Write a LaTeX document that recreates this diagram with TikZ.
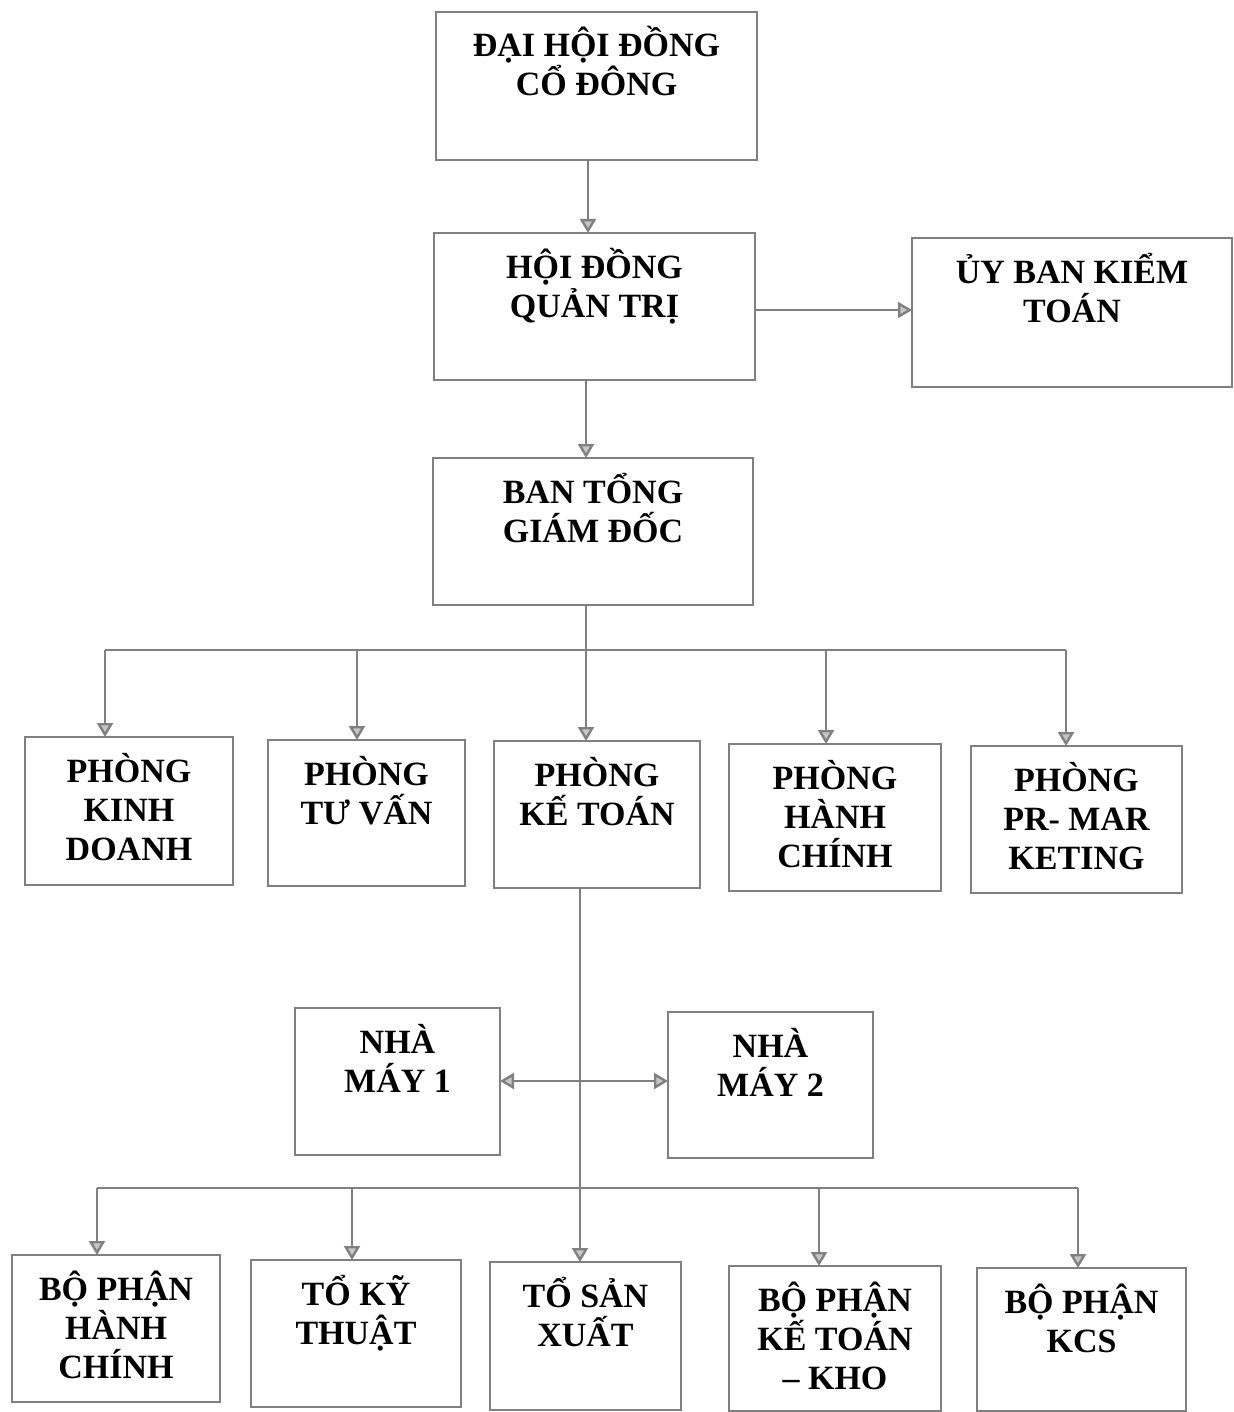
\documentclass[tikz,border=0pt]{standalone}
\usepackage{fontspec}
\setmainfont{Liberation Serif}
\usetikzlibrary{arrows.meta}
\definecolor{ln}{RGB}{128,128,128}
\newdimen\pxu \pxu=0.5pt
\newcommand\bx[3]{\parbox[c][#2\pxu][t]{#1\pxu}{\centering\fontsize{17}{19.5}\selectfont\bfseries\lineskiplimit=-20pt\rule{0pt}{22.5pt}#3\par}}
\tikzset{
  orgbox/.style={draw=ln, line width=1.4pt, inner sep=0pt, outer sep=0pt, anchor=north west},
  conn/.style={draw=ln, line width=1.2pt},
  arr/.style={conn, -{Triangle[width=8pt,length=7pt,fill=ln!45]}},
  darr/.style={conn, {Triangle[width=8pt,length=7pt,fill=ln!45]}-{Triangle[width=8pt,length=7pt,fill=ln!45]}}
}
\begin{document}
\begin{tikzpicture}[x=0.5pt,y=-0.5pt]
\useasboundingbox (0,0) rectangle (1234,1412);
% boxes
\node[orgbox] (dh) at (436,12)  {\bx{321}{148}{ĐẠI HỘI ĐỒNG\\CỔ ĐÔNG}};
\node[orgbox] (hd) at (434,233) {\bx{321}{147}{HỘI ĐỒNG\\QUẢN TRỊ}};
\node[orgbox] (ub) at (912,238) {\bx{320}{149}{ỦY BAN KIỂM\\TOÁN}};
\node[orgbox] (bt) at (433,458) {\bx{320}{147}{BAN TỔNG\\GIÁM ĐỐC}};
\node[orgbox] (p1) at (25,737)  {\bx{208}{148}{PHÒNG\\KINH\\DOANH}};
\node[orgbox] (p2) at (268,740) {\bx{197}{146}{PHÒNG\\TƯ VẤN}};
\node[orgbox] (p3) at (494,741) {\bx{206}{147}{PHÒNG\\KẾ TOÁN}};
\node[orgbox] (p4) at (729,744) {\bx{212}{147}{PHÒNG\\HÀNH\\CHÍNH}};
\node[orgbox] (p5) at (971,746) {\bx{211}{147}{PHÒNG\\PR- MAR\\KETING}};
\node[orgbox] (n1) at (295,1008) {\bx{205}{147}{NHÀ\\MÁY 1}};
\node[orgbox] (n2) at (668,1012) {\bx{205}{146}{NHÀ\\MÁY 2}};
\node[orgbox] (b1) at (12,1255)  {\bx{208}{147}{BỘ PHẬN\\HÀNH\\CHÍNH}};
\node[orgbox] (b2) at (251,1260) {\bx{210}{147}{TỔ KỸ\\THUẬT}};
\node[orgbox] (b3) at (490,1262) {\bx{191}{148}{TỔ SẢN\\XUẤT}};
\node[orgbox] (b4) at (729,1266) {\bx{212}{145}{BỘ PHẬN\\KẾ TOÁN\\– KHO}};
\node[orgbox] (b5) at (977,1268) {\bx{209}{143}{BỘ PHẬN\\KCS}};
% guide coordinates
\coordinate (c1) at (588,0);
\coordinate (c2) at (586,0);
\coordinate (r1) at (0,310);
\coordinate (t) at (0,650);
\coordinate (tx1) at (105,0);
\coordinate (tx2) at (357,0);
\coordinate (tx3) at (586,0);
\coordinate (tx4) at (826,0);
\coordinate (tx5) at (1066,0);
\coordinate (m) at (0,1081);
\coordinate (b) at (0,1188);
\coordinate (bx1) at (97,0);
\coordinate (bx2) at (352,0);
\coordinate (bx3) at (580,0);
\coordinate (bx4) at (819,0);
\coordinate (bx5) at (1078,0);
% connectors
\draw[arr] (c1 |- dh.south) -- (c1 |- hd.north);
\draw[arr] (hd.east |- r1) -- (ub.west |- r1);
\draw[arr] (c2 |- hd.south) -- (c2 |- bt.north);
\draw[conn] (tx3 |- bt.south) -- (tx3 |- t);
\draw[conn] (tx1 |- t) -- (tx5 |- t);
\draw[arr] (tx1 |- t) -- (tx1 |- p1.north);
\draw[arr] (tx2 |- t) -- (tx2 |- p2.north);
\draw[arr] (tx3 |- t) -- (tx3 |- p3.north);
\draw[arr] (tx4 |- t) -- (tx4 |- p4.north);
\draw[arr] (tx5 |- t) -- (tx5 |- p5.north);
\draw[arr] (bx3 |- p3.south) -- (bx3 |- b3.north);
\draw[darr] (n1.east |- m) -- (n2.west |- m);
\draw[conn] (bx1 |- b) -- (bx5 |- b);
\draw[arr] (bx1 |- b) -- (bx1 |- b1.north);
\draw[arr] (bx2 |- b) -- (bx2 |- b2.north);
\draw[arr] (bx4 |- b) -- (bx4 |- b4.north);
\draw[arr] (bx5 |- b) -- (bx5 |- b5.north);
\end{tikzpicture}
\end{document}
